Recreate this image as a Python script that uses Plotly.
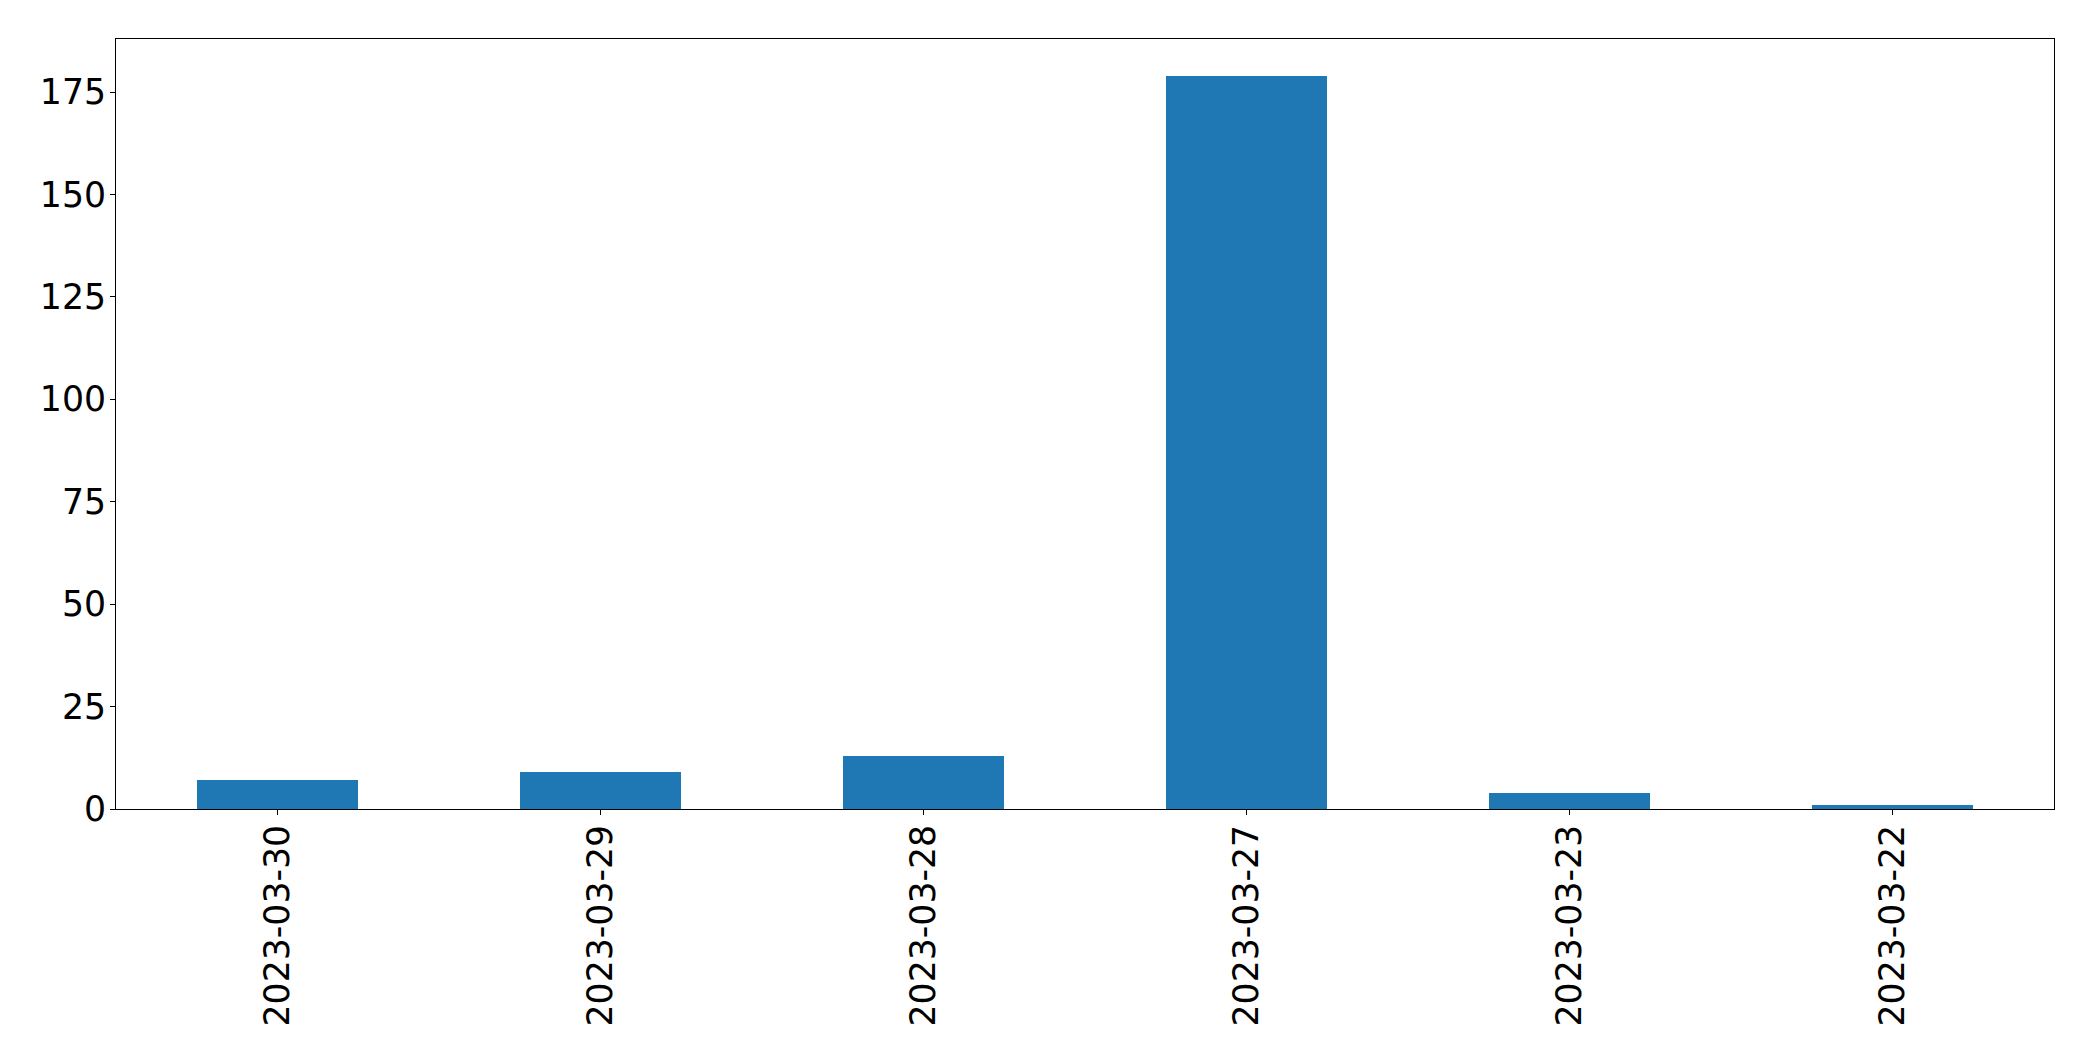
import plotly.graph_objects as go

categories = ["2023-03-30", "2023-03-29", "2023-03-28", "2023-03-27", "2023-03-23", "2023-03-22"]
values = [7, 9, 13, 179, 4, 1]
y_ticks = [0, 25, 50, 75, 100, 125, 150, 175]

fig = go.Figure(go.Bar(x=categories, y=values, width=0.5, marker=dict(color="#1f77b4", line=dict(width=0))))

font = dict(family="DejaVu Sans", size=34.7, color="black")
fig.update_layout(
    width=2093, height=1061,
    margin=dict(l=108, r=47, t=31, b=260),
    paper_bgcolor="white", plot_bgcolor="white",
    showlegend=False, bargap=0,
    font=font,
)
fig.update_xaxes(
    type="category", range=[-0.5, 5.5], tickangle=-90, automargin=False,
    showline=True, linecolor="black", linewidth=1, mirror=True,
    ticks="outside", ticklen=5, tickcolor="black", showgrid=False,
    tickfont=font, ticklabelstandoff=-4,
)
fig.update_yaxes(
    range=[0, 187.95], tickvals=y_ticks, automargin=False,
    showline=True, linecolor="black", linewidth=1, mirror=True,
    ticks="outside", ticklen=5, tickcolor="black", showgrid=False, zeroline=False,
    tickfont=font, ticklabelstandoff=-3,
)
fig.write_html("out.html")
